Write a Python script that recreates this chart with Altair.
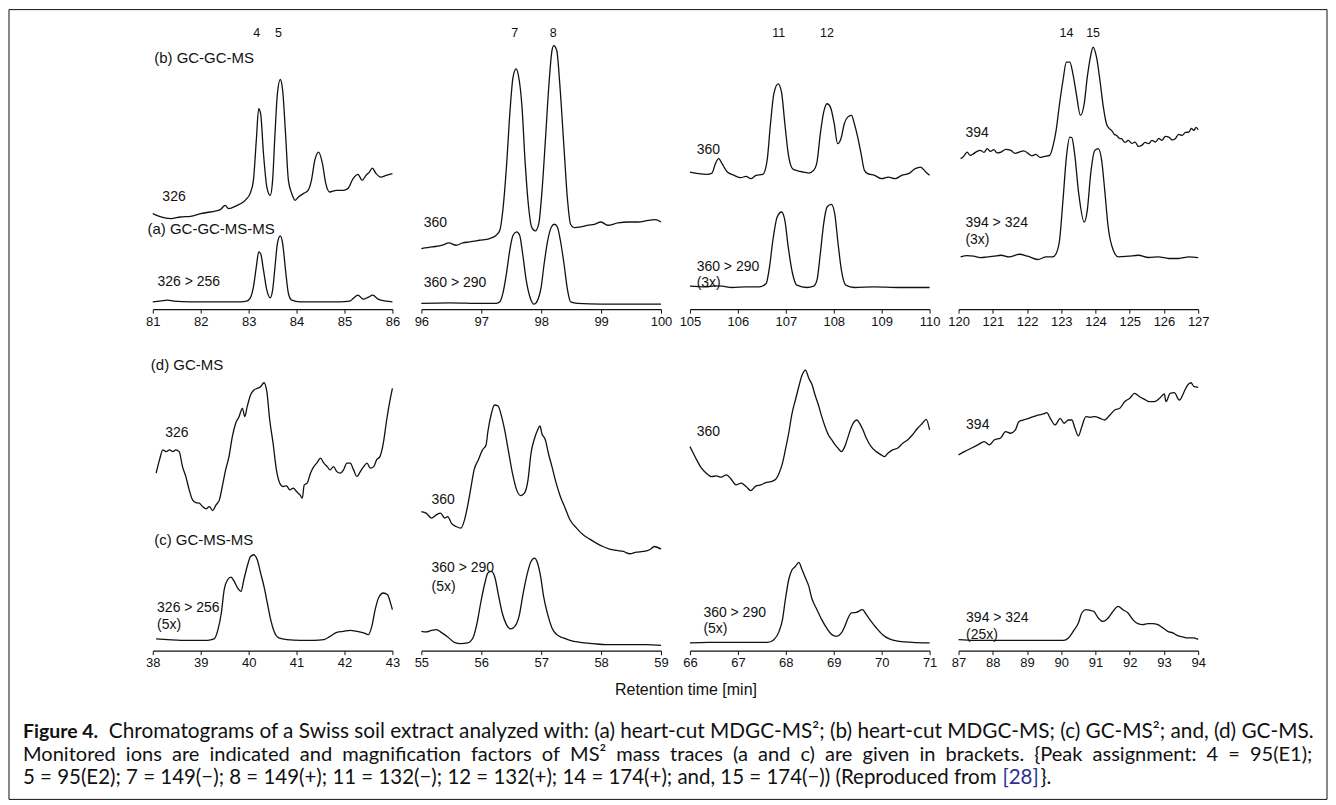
import altair as alt
import pandas as pd

AX_FONT = "Liberation Sans, Arial, Helvetica, sans-serif"
CAP_FONT = "Lato, Liberation Sans, sans-serif"
INK = "#111111"

PANEL_W = 240
ROW1_H, ROW2_H = 294, 296

# ---------------- data: (retention time [min], signal) ----------------
# (b)/(a) row, panel 1: 81-86 min
P1_UPPER = [(81.00, 95.7), (81.17, 92.3), (81.37, 90.7), (81.58, 92.3), (81.79, 93.0), (82.00, 95.7), (82.20, 97.3),
            (82.41, 99.7), (82.51, 104.0), (82.58, 100.7), (82.76, 104.0), (82.89, 107.3), (82.96, 110.7), (83.03, 115.7),
            (83.10, 129.0), (83.16, 169.0), (83.21, 200.7), (83.25, 195.7), (83.31, 155.7), (83.38, 122.3), (83.45, 114.0),
            (83.50, 129.0), (83.55, 175.7), (83.60, 215.7), (83.66, 230.0), (83.71, 219.0), (83.77, 175.7), (83.83, 129.0),
            (83.90, 115.7), (83.97, 109.0), (84.04, 112.3), (84.14, 115.7), (84.24, 119.0), (84.31, 129.0), (84.38, 149.0),
            (84.46, 157.3), (84.54, 145.7), (84.61, 125.7), (84.69, 117.3), (84.83, 119.0), (84.97, 119.0), (85.07, 120.7),
            (85.18, 130.7), (85.28, 135.0), (85.37, 129.0), (85.45, 134.0), (85.52, 137.3), (85.58, 141.3), (85.66, 135.7),
            (85.76, 132.3), (85.87, 134.0), (86.00, 135.7)]
P1_LOWER = [(81.00, 7.3), (81.17, 8.3), (81.31, 9.0), (81.44, 8.0), (81.79, 7.3), (82.13, 7.3), (82.48, 7.3), (82.83, 7.3),
            (82.96, 8.0), (83.03, 10.7), (83.10, 22.3), (83.16, 42.3), (83.21, 57.3), (83.25, 55.7), (83.31, 39.0),
            (83.38, 19.0), (83.45, 11.3), (83.50, 19.0), (83.55, 42.3), (83.60, 65.7), (83.66, 73.3), (83.71, 65.7),
            (83.77, 39.0), (83.83, 15.7), (83.90, 9.0), (84.07, 7.3), (84.55, 7.3), (84.90, 7.3), (85.11, 8.0), (85.18, 10.7),
            (85.28, 14.0), (85.39, 10.0), (85.49, 11.7), (85.59, 14.0), (85.70, 10.0), (85.87, 8.0), (86.00, 7.3)]

# panel 2: 96-100 min
P2_UPPER = [(96.00, 60.7), (96.18, 62.3), (96.35, 64.0), (96.46, 66.3), (96.58, 64.0), (96.69, 66.3), (96.80, 67.3),
            (96.97, 69.0), (97.14, 70.7), (97.25, 74.0), (97.31, 79.0), (97.36, 99.0), (97.42, 142.3), (97.48, 199.0),
            (97.53, 232.3), (97.58, 240.7), (97.62, 234.0), (97.68, 202.3), (97.73, 149.0), (97.79, 102.3), (97.84, 82.3),
            (97.90, 78.3), (97.96, 85.7), (98.01, 115.7), (98.07, 169.0), (98.13, 225.7), (98.18, 259.0), (98.21, 264.0),
            (98.26, 259.0), (98.31, 225.7), (98.38, 162.3), (98.44, 109.0), (98.49, 85.0), (98.55, 81.7), (98.66, 82.3),
            (98.77, 84.0), (98.89, 85.0), (99.00, 87.3), (99.11, 84.0), (99.28, 86.3), (99.45, 87.3), (99.62, 87.3),
            (99.79, 89.0), (99.90, 89.7), (100.00, 87.3)]
P2_LOWER = [(96.00, 5.7), (96.46, 6.3), (97.03, 5.7), (97.25, 5.7), (97.31, 7.3), (97.36, 15.7), (97.42, 35.7),
            (97.48, 60.7), (97.53, 74.0), (97.59, 77.3), (97.64, 74.0), (97.69, 55.7), (97.75, 29.0), (97.82, 10.7),
            (97.88, 5.0), (97.94, 9.0), (98.00, 22.3), (98.05, 45.7), (98.11, 69.0), (98.17, 82.3), (98.22, 85.0),
            (98.27, 82.3), (98.32, 69.0), (98.38, 45.7), (98.44, 19.0), (98.49, 7.3), (98.61, 5.7), (99.00, 5.0),
            (99.56, 5.0), (100.00, 5.0)]

# panel 3: 105-110 min
P3_UPPER = [(105.00, 137.3), (105.18, 135.7), (105.35, 135.0), (105.46, 136.3), (105.53, 145.7), (105.60, 150.7),
            (105.67, 145.7), (105.78, 137.3), (105.92, 134.0), (106.06, 131.7), (106.17, 133.0), (106.27, 130.7),
            (106.38, 134.0), (106.52, 135.0), (106.61, 149.0), (106.68, 185.7), (106.75, 215.7), (106.84, 225.7),
            (106.91, 217.3), (106.98, 185.7), (107.05, 155.7), (107.14, 140.7), (107.26, 138.3), (107.37, 137.3),
            (107.48, 136.3), (107.58, 139.0), (107.65, 147.3), (107.72, 175.7), (107.79, 197.3), (107.86, 205.7),
            (107.93, 202.3), (108.01, 185.7), (108.08, 165.7), (108.15, 170.7), (108.22, 185.7), (108.29, 192.3),
            (108.37, 194.0), (108.43, 185.7), (108.50, 172.3), (108.57, 155.7), (108.64, 139.0), (108.71, 135.7),
            (108.85, 134.0), (109.00, 130.7), (109.14, 132.3), (109.28, 130.7), (109.42, 134.0), (109.56, 135.7),
            (109.70, 140.7), (109.81, 142.3), (109.92, 137.3), (110.00, 134.0)]
P3_LOWER = [(105.00, 23.0), (105.32, 22.3), (105.53, 23.3), (105.67, 23.0), (105.88, 21.7), (106.17, 22.3), (106.45, 22.3),
            (106.59, 25.7), (106.66, 42.3), (106.73, 69.0), (106.82, 92.3), (106.91, 97.3), (106.98, 89.0), (107.05, 62.3),
            (107.14, 35.7), (107.23, 24.0), (107.44, 21.7), (107.58, 23.0), (107.65, 29.0), (107.72, 55.7), (107.79, 85.7),
            (107.86, 102.3), (107.95, 105.0), (108.02, 95.7), (108.09, 65.7), (108.16, 39.0), (108.25, 24.0),
            (108.43, 21.7), (108.85, 22.3), (109.35, 21.7), (110.00, 21.7)]

# panel 4: 120-127 min
P4_UPPER = [(120.06, 150.7), (120.15, 153.0), (120.25, 157.3), (120.34, 154.0), (120.44, 155.7), (120.54, 158.0),
            (120.64, 159.0), (120.74, 157.0), (120.84, 160.7), (120.93, 158.0), (121.03, 159.7), (121.13, 156.5),
            (121.24, 157.3), (121.38, 160.0), (121.53, 159.0), (121.65, 156.0), (121.77, 157.3), (121.90, 158.5),
            (122.02, 156.3), (122.14, 153.5), (122.26, 155.0), (122.38, 152.0), (122.51, 153.0), (122.66, 154.0),
            (122.75, 162.3), (122.85, 179.0), (122.95, 205.7), (123.05, 229.0), (123.15, 247.3), (123.25, 247.3),
            (123.34, 235.7), (123.44, 215.7), (123.56, 194.0), (123.67, 205.7), (123.76, 232.3), (123.86, 254.0),
            (123.93, 262.3), (124.03, 252.3), (124.13, 229.0), (124.23, 202.3), (124.32, 185.7), (124.40, 181.0),
            (124.47, 179.0), (124.55, 175.0), (124.62, 174.0), (124.70, 171.0), (124.76, 170.7), (124.86, 167.0),
            (124.96, 169.0), (125.06, 166.0), (125.16, 167.3), (125.25, 163.0), (125.35, 164.0), (125.45, 167.0),
            (125.55, 165.7), (125.65, 169.0), (125.75, 167.3), (125.85, 171.0), (125.94, 169.0), (126.04, 173.0),
            (126.14, 172.3), (126.24, 169.5), (126.33, 170.7), (126.43, 175.0), (126.53, 174.0), (126.63, 177.0),
            (126.73, 177.3), (126.80, 181.0), (126.87, 179.0), (126.94, 182.0), (127.00, 179.7)]
P4_LOWER = [(120.06, 52.3), (120.25, 53.5), (120.44, 53.0), (120.64, 51.5), (120.84, 52.3), (121.03, 53.0), (121.24, 54.0),
            (121.48, 52.3), (121.77, 55.0), (122.02, 53.0), (122.31, 49.7), (122.56, 52.3), (122.75, 52.3), (122.85, 55.7),
            (122.95, 69.0), (123.05, 109.0), (123.15, 152.3), (123.25, 172.3), (123.31, 171.7), (123.39, 155.7),
            (123.51, 115.7), (123.67, 87.3), (123.76, 99.0), (123.86, 135.7), (123.98, 159.0), (124.08, 160.7),
            (124.18, 149.0), (124.27, 119.0), (124.37, 82.3), (124.52, 59.0), (124.67, 52.3), (124.96, 53.0),
            (125.25, 54.0), (125.55, 51.7), (125.84, 52.3), (126.14, 50.7), (126.43, 50.7), (126.73, 52.3), (127.00, 51.7)]

# (d)/(c) row, panel 5: 38-43 min
P5_UPPER = [(38.07, 177.7), (38.14, 191.0), (38.21, 201.0), (38.28, 199.3), (38.35, 201.0), (38.42, 199.3), (38.48, 201.0),
            (38.55, 199.3), (38.62, 184.3), (38.69, 174.3), (38.76, 161.0), (38.83, 151.0), (38.90, 148.3), (38.97, 147.7),
            (39.04, 144.3), (39.11, 142.0), (39.18, 144.3), (39.25, 140.3), (39.32, 146.0), (39.39, 151.0), (39.45, 164.3),
            (39.52, 181.0), (39.59, 194.3), (39.66, 214.3), (39.73, 227.7), (39.80, 234.3), (39.87, 242.7), (39.92, 234.3),
            (39.97, 244.3), (40.04, 256.0), (40.11, 261.0), (40.18, 262.7), (40.25, 264.3), (40.32, 268.3), (40.38, 259.3),
            (40.44, 231.0), (40.51, 207.7), (40.58, 181.0), (40.65, 167.7), (40.72, 164.3), (40.79, 165.0), (40.86, 161.0),
            (40.93, 162.7), (41.00, 159.3), (41.07, 156.0), (41.12, 152.7), (41.16, 166.0), (41.22, 167.7), (41.29, 177.7),
            (41.36, 184.3), (41.42, 187.7), (41.50, 192.7), (41.57, 187.7), (41.64, 184.3), (41.70, 181.0), (41.77, 184.3),
            (41.84, 179.3), (41.91, 177.7), (41.98, 181.0), (42.05, 187.7), (42.12, 187.7), (42.19, 181.0), (42.26, 174.3),
            (42.33, 179.3), (42.40, 184.3), (42.47, 187.7), (42.54, 182.7), (42.61, 184.3), (42.67, 191.0), (42.74, 194.3),
            (42.81, 207.7), (42.88, 231.0), (42.95, 251.0), (43.00, 262.7)]
P5_LOWER = [(38.07, 11.7), (38.31, 11.0), (38.59, 10.3), (38.87, 10.3), (39.14, 10.3), (39.28, 11.7), (39.36, 21.0),
            (39.43, 37.7), (39.49, 61.0), (39.56, 71.0), (39.63, 73.7), (39.70, 69.3), (39.77, 62.7), (39.84, 59.3),
            (39.90, 71.0), (39.97, 84.3), (40.04, 94.3), (40.11, 96.0), (40.18, 91.0), (40.25, 77.7), (40.32, 64.3),
            (40.39, 47.7), (40.46, 31.0), (40.53, 19.3), (40.63, 12.7), (40.80, 11.0), (41.08, 10.3), (41.36, 10.3),
            (41.57, 11.0), (41.70, 14.3), (41.84, 18.3), (41.98, 19.3), (42.12, 20.3), (42.26, 19.3), (42.40, 17.7),
            (42.50, 16.0), (42.57, 24.3), (42.64, 41.0), (42.71, 52.7), (42.81, 57.7), (42.90, 56.0), (42.95, 49.3),
            (43.00, 41.0)]

# panel 6: 55-59 min
P6_UPPER = [(55.00, 139.3), (55.08, 137.7), (55.17, 132.7), (55.25, 136.0), (55.32, 137.7), (55.39, 132.7), (55.44, 134.3),
            (55.50, 127.7), (55.58, 124.3), (55.66, 122.7), (55.72, 131.0), (55.77, 144.3), (55.83, 164.3), (55.88, 181.0),
            (55.95, 191.0), (56.02, 201.0), (56.08, 206.0), (56.11, 219.3), (56.17, 237.7), (56.22, 246.0), (56.28, 245.0),
            (56.34, 234.3), (56.39, 221.0), (56.45, 201.0), (56.52, 177.7), (56.59, 161.0), (56.66, 155.3), (56.72, 157.7),
            (56.78, 171.0), (56.83, 197.7), (56.89, 212.7), (56.94, 221.0), (56.98, 225.0), (57.01, 217.7), (57.07, 211.0),
            (57.12, 197.7), (57.18, 184.3), (57.25, 167.7), (57.32, 154.3), (57.40, 142.7), (57.48, 131.0), (57.59, 122.7),
            (57.70, 116.0), (57.81, 111.7), (57.92, 107.7), (58.03, 104.3), (58.14, 101.7), (58.26, 100.3), (58.37, 99.3),
            (58.48, 97.0), (58.59, 98.7), (58.70, 99.3), (58.81, 101.0), (58.89, 104.3), (59.00, 101.7)]
P6_LOWER = [(55.00, 19.3), (55.08, 18.7), (55.17, 20.3), (55.25, 21.0), (55.33, 18.3), (55.44, 13.7), (55.55, 8.3),
            (55.66, 7.0), (55.77, 7.7), (55.86, 12.7), (55.93, 27.7), (55.99, 47.7), (56.06, 67.7), (56.11, 77.7),
            (56.17, 79.3), (56.23, 72.7), (56.28, 57.7), (56.35, 37.7), (56.42, 26.0), (56.49, 21.7), (56.56, 24.3),
            (56.63, 34.3), (56.70, 57.7), (56.77, 77.7), (56.83, 89.3), (56.89, 92.7), (56.93, 89.3), (56.99, 74.3),
            (57.04, 54.3), (57.11, 36.0), (57.18, 22.7), (57.26, 16.0), (57.37, 12.7), (57.48, 10.3), (57.65, 8.3),
            (57.87, 7.0), (58.09, 6.0), (58.42, 6.0), (58.75, 6.0), (59.00, 5.3)]

# panel 7: 66-71 min
P7_UPPER = [(66.00, 204.3), (66.07, 197.7), (66.14, 191.0), (66.24, 182.7), (66.34, 177.7), (66.45, 174.3), (66.55, 175.0),
            (66.65, 173.7), (66.76, 176.0), (66.86, 171.7), (66.96, 166.0), (67.07, 167.7), (67.17, 164.3), (67.27, 160.3),
            (67.38, 165.0), (67.48, 166.0), (67.58, 168.3), (67.69, 169.3), (67.79, 171.7), (67.86, 177.7), (67.93, 187.7),
            (67.99, 201.0), (68.06, 217.7), (68.13, 237.7), (68.20, 251.0), (68.27, 264.3), (68.34, 276.0), (68.41, 281.0),
            (68.48, 272.7), (68.55, 266.0), (68.61, 256.0), (68.68, 246.0), (68.75, 234.3), (68.82, 224.3), (68.89, 216.0),
            (68.96, 211.0), (69.03, 206.0), (69.09, 202.7), (69.16, 199.3), (69.23, 204.3), (69.30, 214.3), (69.37, 224.3),
            (69.48, 231.0), (69.54, 227.7), (69.61, 221.0), (69.68, 212.7), (69.78, 204.3), (69.89, 199.3), (69.99, 196.0),
            (70.06, 194.3), (70.13, 197.7), (70.23, 201.0), (70.33, 202.7), (70.44, 207.7), (70.54, 211.0), (70.64, 216.0),
            (70.75, 222.7), (70.85, 227.7), (70.93, 231.7), (71.00, 221.0)]
P7_LOWER = [(66.00, 7.7), (66.38, 8.3), (66.79, 8.3), (67.20, 8.3), (67.62, 8.3), (67.75, 11.0), (67.86, 19.3),
            (67.93, 31.0), (67.99, 51.0), (68.06, 71.0), (68.13, 81.0), (68.20, 84.3), (68.27, 88.3), (68.34, 81.0),
            (68.41, 72.7), (68.48, 64.3), (68.54, 52.7), (68.65, 41.0), (68.75, 31.0), (68.85, 22.7), (68.96, 16.0),
            (69.06, 14.3), (69.16, 17.7), (69.23, 24.3), (69.30, 32.7), (69.37, 37.7), (69.47, 38.3), (69.60, 41.0),
            (69.68, 36.0), (69.78, 29.3), (69.89, 22.7), (70.02, 16.0), (70.16, 11.7), (70.37, 9.3), (70.64, 8.3),
            (71.00, 7.7)]

# panel 8: 87-94 min
P8_UPPER = [(87.00, 196.0), (87.17, 199.3), (87.37, 202.7), (87.56, 206.0), (87.75, 209.3), (87.90, 206.0), (88.04, 211.0),
            (88.23, 213.0), (88.37, 219.3), (88.52, 217.7), (88.66, 221.0), (88.76, 229.3), (88.90, 231.0), (89.05, 232.7),
            (89.19, 234.3), (89.34, 236.0), (89.48, 237.0), (89.58, 238.3), (89.68, 232.7), (89.82, 226.0), (89.97, 232.7),
            (90.08, 227.7), (90.21, 231.0), (90.31, 231.0), (90.40, 222.7), (90.50, 215.0), (90.60, 224.3), (90.72, 234.3),
            (90.84, 233.7), (90.98, 234.3), (91.13, 232.7), (91.27, 231.0), (91.42, 236.0), (91.56, 241.0), (91.71, 242.7),
            (91.85, 249.3), (92.00, 252.7), (92.14, 257.7), (92.29, 254.3), (92.43, 251.7), (92.58, 249.3), (92.72, 249.3),
            (92.87, 252.7), (93.01, 257.0), (93.06, 249.3), (93.18, 257.7), (93.30, 258.3), (93.45, 251.0), (93.59, 259.3),
            (93.69, 266.0), (93.79, 268.3), (93.88, 264.3), (94.00, 263.7)]
P8_LOWER = [(87.00, 11.0), (87.47, 10.3), (88.23, 10.3), (88.71, 10.3), (89.19, 10.3), (89.68, 10.3), (90.06, 10.3),
            (90.21, 12.7), (90.35, 19.3), (90.50, 27.7), (90.60, 37.7), (90.72, 41.0), (90.84, 40.3), (90.95, 39.3),
            (91.08, 32.7), (91.22, 29.3), (91.37, 32.7), (91.51, 39.3), (91.66, 44.3), (91.80, 41.0), (91.95, 37.7),
            (92.09, 31.0), (92.24, 27.0), (92.38, 26.0), (92.53, 27.0), (92.67, 27.0), (92.82, 26.0), (92.97, 22.7),
            (93.11, 19.3), (93.26, 17.7), (93.40, 15.0), (93.55, 13.7), (93.69, 12.7), (93.84, 12.7), (94.00, 11.3)]

# peak numbers (label, time, height)
P1_PEAKS = [("4", 83.17, 277), ("5", 83.62, 277)]
P2_PEAKS = [("7", 97.56, 277), ("8", 98.20, 277)]
P3_PEAKS = [("11", 106.85, 277), ("12", 107.86, 277)]
P4_PEAKS = [("14", 123.15, 277), ("15", 123.93, 277)]

# trace labels (label, time, height, font size)
P1_LABELS = [("(b) GC-GC-MS", 81.03, 252, 15), ("326", 81.20, 112, 14), ("(a) GC-GC-MS-MS", 80.89, 80, 15),
             ("326 > 256", 81.10, 27, 14)]
P2_LABELS = [("360", 96.04, 86, 14), ("360 > 290", 96.04, 26, 14)]
P3_LABELS = [("360", 105.14, 159, 14), ("360 > 290", 105.14, 42, 14), ("(3x)", 105.14, 26, 14)]
P4_LABELS = [("394", 120.20, 176, 14), ("394 > 324", 120.20, 86, 14), ("(3x)", 120.20, 69, 14)]
P5_LABELS = [("(d) GC-MS", 37.96, 286, 15), ("326", 38.26, 218, 14), ("(c) GC-MS-MS", 38.03, 111, 15),
             ("326 > 256", 38.09, 43, 14), ("(5x)", 38.09, 26, 14)]
P6_LABELS = [("360", 55.17, 151, 14), ("360 > 290", 55.17, 83, 14), ("(5x)", 55.17, 64, 14)]
P7_LABELS = [("360", 66.14, 219, 14), ("360 > 290", 66.28, 38, 14), ("(5x)", 66.28, 22, 14)]
P8_LABELS = [("394", 87.22, 226, 14), ("394 > 324", 87.22, 33, 14), ("(25x)", 87.22, 16, 14)]

X_TITLE = "Retention time [min]"

# caption: the second line is justified in the original, so its word gaps are en spaces
EN = "\u2002"
CAP_LINE2 = EN.join("Monitored ions are indicated and magnification factors of MS² mass traces (a and c) "
                    "are given in brackets. {Peak assignment: 4 = 95(E1);".split(" "))
# (text, page x, page y, bold, color, font size)
CAPTION = [
    ("Figure 4.", 22, 733, True, INK, 19.5),
    ("Chromatograms of a Swiss soil extract analyzed with: (a) heart-cut MDGC-MS²; (b) heart-cut MDGC-MS; "
     "(c) GC-MS²; and, (d) GC-MS.", 108, 733, False, INK, 20.8),
    (CAP_LINE2, 22, 756, False, INK, 20.1),
    ("5 = 95(E2); 7 = 149(−); 8 = 149(+); 11 = 132(−); 12 = 132(+); 14 = 174(+); and, 15 = 174(−)) (Reproduced from",
     22, 779, False, INK, 20.5),
    ("[28]", 1003, 779, False, "#2E3192", 20.5),
    ("}.", 1041, 779, False, INK, 20.5),
]


def one_row():
    return pd.DataFrame({"k": [0]})


def make_panel(xmin, xmax, traces, peaks, labels, w, h, extras=()):
    xs = alt.Scale(domain=[xmin, xmax], nice=False, zero=False)
    ys = alt.Scale(domain=[0, h], nice=False, zero=False)
    xax = alt.Axis(values=list(range(xmin, xmax + 1)), title=None, format="d", grid=False,
                   labelFont=AX_FONT, labelFontSize=13, labelColor=INK, labelPadding=2,
                   labelFlush=False, labelOverlap=False, domainColor=INK, domainWidth=1.2,
                   tickColor=INK, tickSize=4, tickWidth=1)
    rows = [{"t": t, "s": s, "trace": name} for name, pts in traces for t, s in pts]
    df = pd.DataFrame(rows)
    line = alt.Chart(df).mark_line(color=INK, strokeWidth=1.3, interpolate="monotone").encode(
        x=alt.X("t:Q", scale=xs, axis=xax),
        y=alt.Y("s:Q", scale=ys, axis=None),
        detail="trace:N",
    )
    layers = [line]
    if peaks:
        pdf = pd.DataFrame(peaks, columns=["label", "t", "s"])
        layers.append(
            alt.Chart(pdf).mark_text(font=AX_FONT, fontSize=12.5, color=INK, align="center", baseline="middle").encode(
                x=alt.X("t:Q", scale=xs, axis=xax), y=alt.Y("s:Q", scale=ys, axis=None), text="label:N"))
    ldf = pd.DataFrame(labels, columns=["label", "t", "s", "size"])
    layers.append(
        alt.Chart(ldf).mark_text(font=AX_FONT, color=INK, align="left", baseline="middle").encode(
            x=alt.X("t:Q", scale=xs, axis=xax), y=alt.Y("s:Q", scale=ys, axis=None), text="label:N",
            size=alt.Size("size:Q", scale=None)))
    layers.extend(extras)
    return alt.layer(*layers).properties(width=w, height=h)


# panel origins on the page (decorations are placed relative to a panel)
P1_ORIGIN = (152, 15)
P5_ORIGIN = (152, 355)

border = alt.Chart(one_row()).mark_rect(fillOpacity=0, stroke=INK, strokeWidth=1).encode(
    x=alt.value(8 - P1_ORIGIN[0]), x2=alt.value(1328 - P1_ORIGIN[0]),
    y=alt.value(9 - P1_ORIGIN[1]), y2=alt.value(800 - P1_ORIGIN[1]))

deco5 = [alt.Chart(one_row()).mark_text(text=X_TITLE, font=AX_FONT, fontSize=16, color=INK, align="center",
                                        baseline="middle").encode(
    x=alt.value(686 - P5_ORIGIN[0]), y=alt.value(690 - P5_ORIGIN[1]))]
for text, px, py, bold, col, fs in CAPTION:
    deco5.append(alt.Chart(one_row()).mark_text(text=text, font=CAP_FONT, fontSize=fs, color=col, align="left",
                                                baseline="middle", fontWeight="bold" if bold else "normal").encode(
        x=alt.value(px - P5_ORIGIN[0]), y=alt.value(py - P5_ORIGIN[1])))

p1 = make_panel(81, 86, [("u", P1_UPPER), ("l", P1_LOWER)], P1_PEAKS, P1_LABELS, PANEL_W, ROW1_H, [border])
p2 = make_panel(96, 100, [("u", P2_UPPER), ("l", P2_LOWER)], P2_PEAKS, P2_LABELS, PANEL_W, ROW1_H)
p3 = make_panel(105, 110, [("u", P3_UPPER), ("l", P3_LOWER)], P3_PEAKS, P3_LABELS, PANEL_W, ROW1_H)
p4 = make_panel(120, 127, [("u", P4_UPPER), ("l", P4_LOWER)], P4_PEAKS, P4_LABELS, PANEL_W, ROW1_H)
p5 = make_panel(38, 43, [("u", P5_UPPER), ("l", P5_LOWER)], None, P5_LABELS, PANEL_W, ROW2_H, deco5)
p6 = make_panel(55, 59, [("u", P6_UPPER), ("l", P6_LOWER)], None, P6_LABELS, PANEL_W, ROW2_H)
p7 = make_panel(66, 71, [("u", P7_UPPER), ("l", P7_LOWER)], None, P7_LABELS, PANEL_W, ROW2_H)
p8 = make_panel(87, 94, [("u", P8_UPPER), ("l", P8_LOWER)], None, P8_LABELS, PANEL_W, ROW2_H)

chart = alt.concat(p1, p2, p3, p4, p5, p6, p7, p8, columns=4,
                   spacing={"row": 46, "column": 29}, bounds="flush").properties(
    padding=0, background="white"
).configure_view(strokeWidth=0)

chart.save("out.html", embed_options={"renderer": "svg", "actions": False})
